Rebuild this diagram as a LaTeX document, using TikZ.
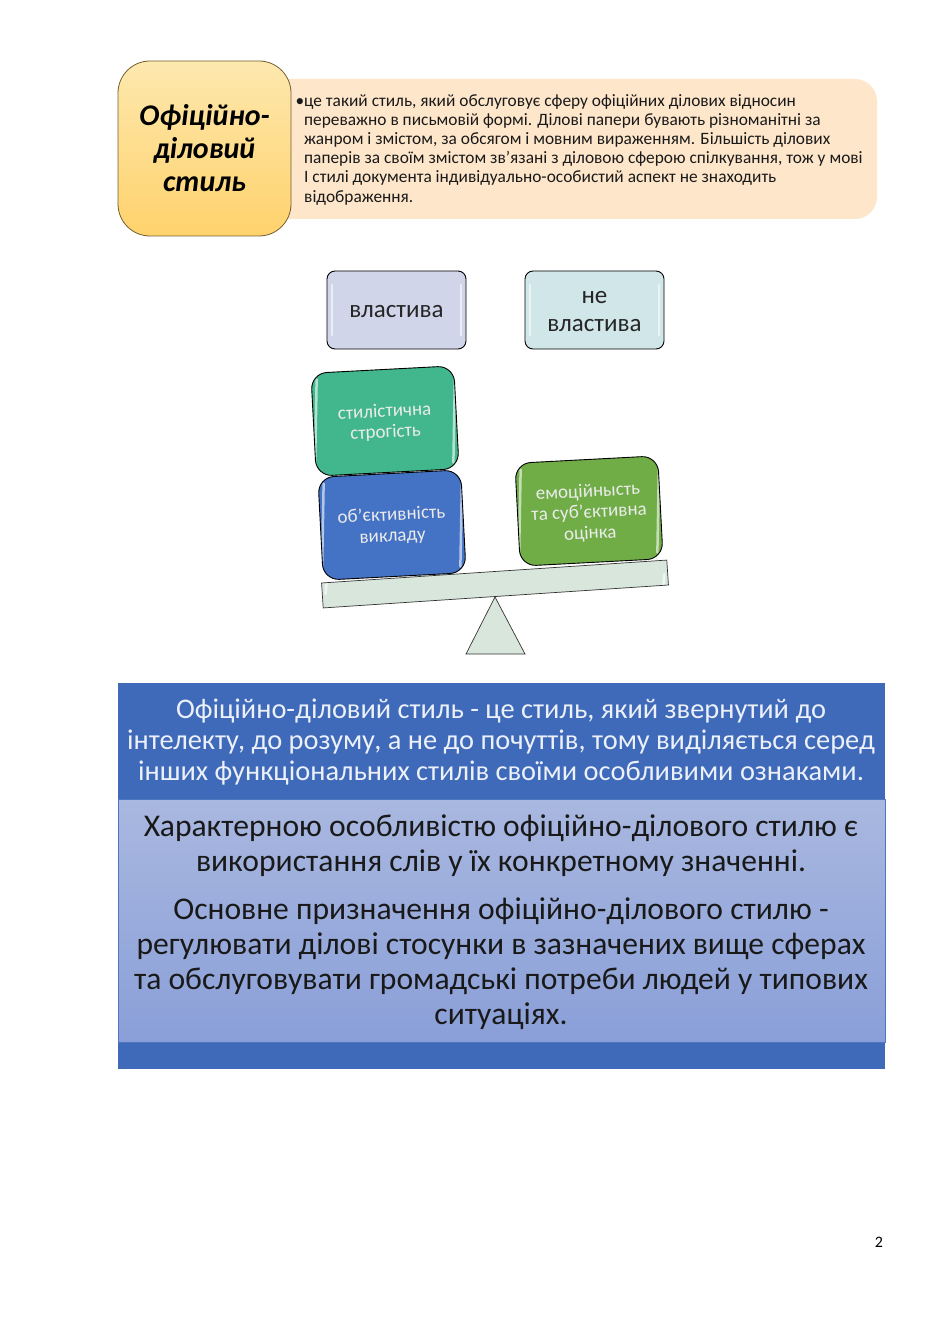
\documentclass[tikz,border=0pt]{standalone}
\usepackage{fontspec}
\setmainfont{Carlito}
\usetikzlibrary{positioning}
\definecolor{orangelite}{HTML}{FEE6CB}
\definecolor{yellowtop}{HTML}{FDE8AE}
\definecolor{yellowbot}{HTML}{FFD26C}
\definecolor{pagesblue}{HTML}{3F6ABA}
\definecolor{listtop}{HTML}{A9B8E0}
\definecolor{listbot}{HTML}{8A9FD8}
\definecolor{scalegreen}{HTML}{D8E6DC}
\definecolor{hasfill}{HTML}{D0D5E9}
\definecolor{hasnotfill}{HTML}{D1E6E8}
\definecolor{strictfill}{HTML}{42B78E}
\definecolor{objectfill}{HTML}{4472C4}
\definecolor{emotionfill}{HTML}{70AD47}
\tikzset{
 glossy/.style={draw=black, line width=0.9pt, rounded corners=#1, align=center, inner sep=0pt,
   path picture={
    \draw[white, opacity=0.6, line width=2.5pt, line cap=round]
      ([shift={(5pt,-14pt)}]path picture bounding box.north west) -- ([shift={(5pt,14pt)}]path picture bounding box.south west)
      ([shift={(-5pt,-14pt)}]path picture bounding box.north east) -- ([shift={(-5pt,14pt)}]path picture bounding box.south east);
   }},
 headbox/.style={glossy=8pt, minimum width=139pt, minimum height=78pt, text=black!85, font=\fontsize{25}{28}\selectfont},
 weightbox/.style={glossy=16pt, minimum width=143pt, minimum height=103pt, rotate=3, text=white!92!black, font=\fontsize{19}{21}\selectfont},
 scalepart/.style={draw=black!80, line width=0.7pt, fill=scalegreen},
 bluetext/.style={align=center, text=white!90!pagesblue, font=\fontsize{28.4}{31}\selectfont},
 listtext/.style={align=center, text=black!90, font=\fontsize{31.6}{35}\selectfont},
}
\begin{document}
\begin{tikzpicture}[x=1pt,y=-1pt]
\useasboundingbox (0,0) rectangle (940,1329);

% top block
\fill[orangelite, rounded corners=22pt] (200,79) rectangle (877,219);
\node[anchor=north west, align=left, inner sep=0pt, text=black!90, font=\fontsize{17.35}{19.2}\selectfont] (about) at (304,94)
 {\llap{•}це такий стиль, який обслуговує сферу офіційних ділових відносин\\
 переважно в письмовій формі. Ділові папери бувають різноманітні за\\
 жанром і змістом, за обсягом і мовним вираженням. Більшість ділових\\
 паперів за своїм змістом зв’язані з діловою сферою спілкування, тож у мові\\
 І стилі документа індивідуально-особистий аспект не знаходить\\
 відображення.};
\node[draw=black!55!yellowbot, line width=0.8pt, rounded corners=32pt, top color=yellowtop, bottom color=yellowbot,
 minimum width=173pt, minimum height=175pt, inner sep=0pt, align=center,
 font=\fontsize{30}{33}\selectfont\bfseries\itshape] (title) at (204.5,148.5)
 {Офіційно-\\діловий\\стиль};

% the scale
\node[headbox, fill=hasfill] (has) at (396.5,310) {\rule{0pt}{16pt}властива};
\node[headbox, fill=hasnotfill] (hasnot) at (594.5,310) {\rule{0pt}{16pt}не\\властива};
\draw[scalepart] (495,597) -- (525,654) -- (466,654) -- cycle;
\node[glossy=0pt, minimum width=346pt, minimum height=25pt, rotate=3.8, scalepart] (beam) at (495,584) {};
\node[weightbox, fill=strictfill] (strict) at (385,421) {\rule{0pt}{16pt}стилістична\\строгість};
\node[weightbox, fill=objectfill] (objective) at (392,525) {\rule{0pt}{15pt}об’єктивність\\викладу};
\node[weightbox, fill=emotionfill] (emotion) at (589,511) {\rule{0pt}{17pt}емоційнысть\\та суб’єктивна\\оцінка};

% bottom block
\fill[pagesblue] (118,683) rectangle (885,1069);
\draw[draw=pagesblue!80!listbot, top color=listtop, bottom color=listbot] (118,799) rectangle (885,1042);
\node[bluetext] (intro) at (501,742.5)
 {Офіційно-діловий стиль - це стиль, який звернутий до\\
 інтелекту, до розуму, а не до почуттів, тому виділяється серед\\
 інших функціональних стилів своїми особливими ознаками.};
\node[listtext] (first) at (501,846) {Характерною особливістю офіційно-ділового стилю є\\використання слів у їх конкретному значенні.};
\node[listtext] (second) at (501,964) {Основне призначення офіційно-ділового стилю -\\регулювати ділові стосунки в зазначених вище сферах\\та обслуговувати громадські потреби людей у типових\\ситуаціях.};

\node[font=\fontsize{16}{19}\selectfont] (pagenum) at (879,1242) {2};
\end{tikzpicture}
\end{document}
